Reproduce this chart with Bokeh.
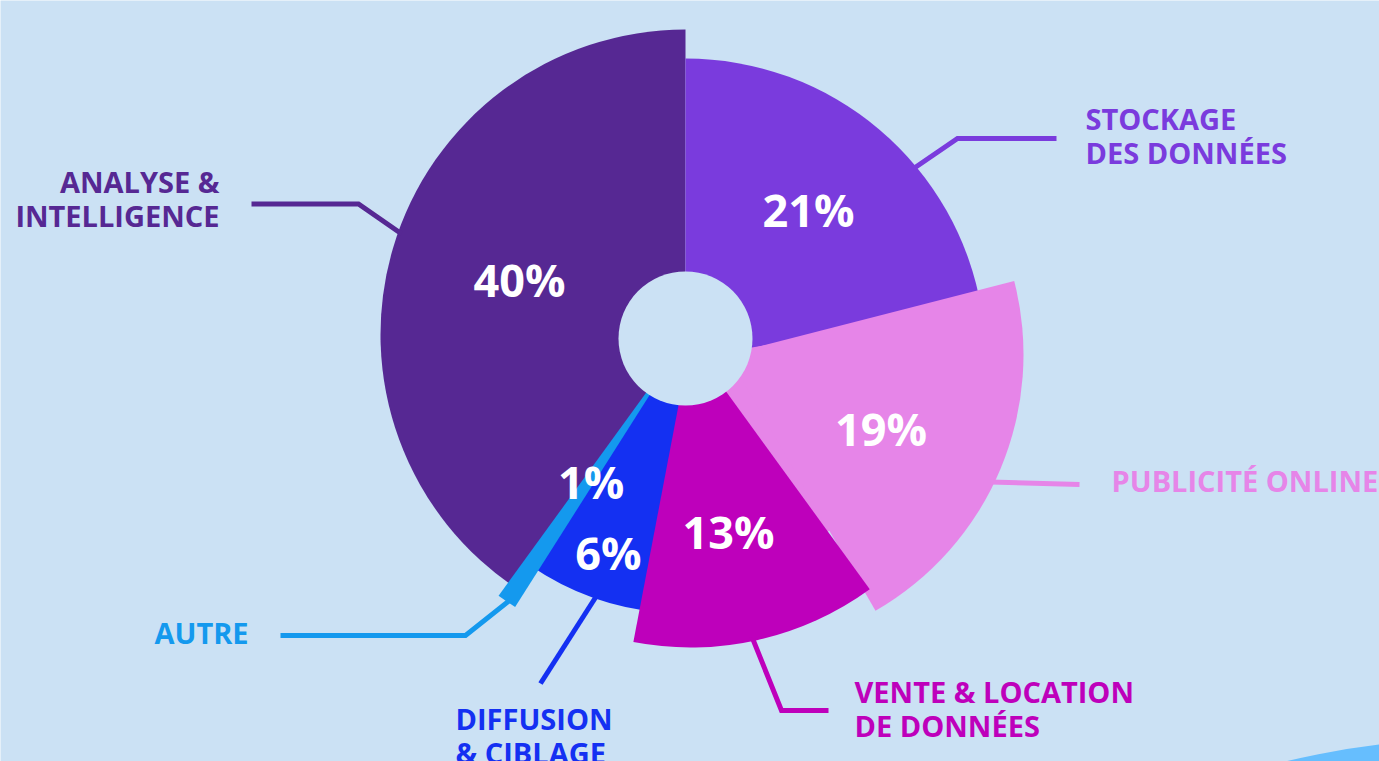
import math
from bokeh.plotting import figure
from bokeh.models import Range1d
from bokeh.core.properties import value
from bokeh.embed import file_html
from bokeh.resources import INLINE

# ---------------- data ----------------
categories = ["Stockage des données", "Publicité online", "Vente & location de données",
              "Diffusion & ciblage", "Autre", "Analyse & intelligence"]
label_lines = [["STOCKAGE", "DES DONNÉES"], ["PUBLICITÉ ONLINE"], ["VENTE & LOCATION", "DE DONNÉES"],
               ["DIFFUSION", "& CIBLAGE"], ["AUTRE"], ["ANALYSE &", "INTELLIGENCE"]]
shares = [21, 19, 13, 6, 1, 40]
pct_labels = [f"{v}%" for v in shares]

# ---------------- style / layout ----------------
BG = "#CBE1F4"
colors = ["#7A3BDD", "#E685E8", "#BE00BB", "#1430F2", "#1499EE", "#562893"]
CX, CY = 685, 338             # page-pixel centre of the chart (y downward)
radius = [300, 296, 305, 275, 318, 305]
offset = [(0, 20), (42, 16), (5, 4), (0, 0), (0, 0), (0, -4)]
bleed_start = [0, 0, 0, 6, 0, 3]
bleed_end = [5, 6, 0, 2, 0, 0]
root_r = 240                  # common-centre underlay for the exploded slice
draw_order = [3, 5, "root1", 0, 1, 2, 4]
hole_r = 67
label_r = [191, 172, 196, 230, 174, 174]
label_shift = [2.3, 7, 1.4, -2, -1.4, -0.6]
leader_angle = [50.2, 115.9, 168.2, 199, 213.8, 289.5]
leader_path = [[(957, 138), (1056, 138)], [(1079, 484)], [(781, 710), (828, 710)],
               [(540, 683)], [(465, 635), (280, 635)], [(358, 203.5), (251, 203.5)]]
label_x = [1085, 1111, 854, 455, 154, 219]
label_y0 = [120, 482, 693, 720, 634, 183]
label_align = ["left", "left", "left", "left", "left", "right"]
line_gap = 34
LBL_SIZE = 29
PCT_SIZE = 45
BASE_SHIFT = 0.07             # baseline offset (em) above the visual cap centre
FONT = "Open Sans"

W, H = 1379, 761


def Y(y_img):
    return H - y_img


p = figure(width=W, height=H, x_range=Range1d(0, W), y_range=Range1d(0, H),
           output_backend="svg", toolbar_location=None, min_border=0,
           x_axis_location=None, y_axis_location=None,
           background_fill_color=BG, border_fill_color=BG, outline_line_color=None)
p.grid.visible = False

# decorative shape bottom-right
p.circle(x=[1474], y=[Y(1538)], radius=800, fill_color="#66BEFE", line_color=None)

# cumulative angles (clockwise from 12 o'clock)
total = sum(shares)
starts, ends = [], []
acc = 0
for v in shares:
    starts.append(acc / total * 360)
    acc += v
    ends.append(acc / total * 360)

centers = [(CX + dx, CY + dy) for dx, dy in offset]


def wedge(cx, cy, r, t1, t2, color):
    p.wedge(x=[cx], y=[Y(cy)], radius=r,
            start_angle=math.radians(90 - t2), end_angle=math.radians(90 - t1),
            fill_color=color, line_color=None)


for i in draw_order:
    if i == "root1":
        wedge(CX, CY, root_r, starts[1], ends[1], colors[1])
        continue
    cx, cy = centers[i]
    wedge(cx, cy, radius[i], starts[i] - bleed_start[i], ends[i] + bleed_end[i], colors[i])

# hole
p.circle(x=[CX], y=[Y(CY)], radius=hole_r, fill_color=BG, line_color=None)

# leader lines
for i in range(len(shares)):
    cx, cy = centers[i]
    a = math.radians(leader_angle[i])
    r = radius[i] - 4
    sx, sy = cx + r * math.sin(a), cy - r * math.cos(a)
    pts = [(sx, sy)] + leader_path[i]
    p.line([q[0] for q in pts], [Y(q[1]) for q in pts], line_width=5,
           line_color=colors[i], line_join="miter")

# category labels
for i in range(len(shares)):
    for k, txt in enumerate(label_lines[i]):
        yc = label_y0[i] + k * line_gap
        p.text(x=[label_x[i]], y=[Y(yc - BASE_SHIFT * LBL_SIZE)], text=[txt],
               text_color=colors[i], text_font=value(FONT), text_font_style="bold",
               text_font_size=f"{LBL_SIZE}px", text_align=label_align[i],
               text_baseline="alphabetic")

# percentage labels
for i in range(len(shares)):
    cx, cy = centers[i]
    a = math.radians((starts[i] + ends[i]) / 2 + label_shift[i])
    lx, ly = cx + label_r[i] * math.sin(a), cy - label_r[i] * math.cos(a)
    p.text(x=[lx], y=[Y(ly - BASE_SHIFT * PCT_SIZE)], text=[pct_labels[i]],
           text_color="white", text_font=value(FONT), text_font_style="bold",
           text_font_size=f"{PCT_SIZE}px", text_align="center",
           text_baseline="alphabetic")

open("out.html", "w").write(file_html(p, INLINE))
